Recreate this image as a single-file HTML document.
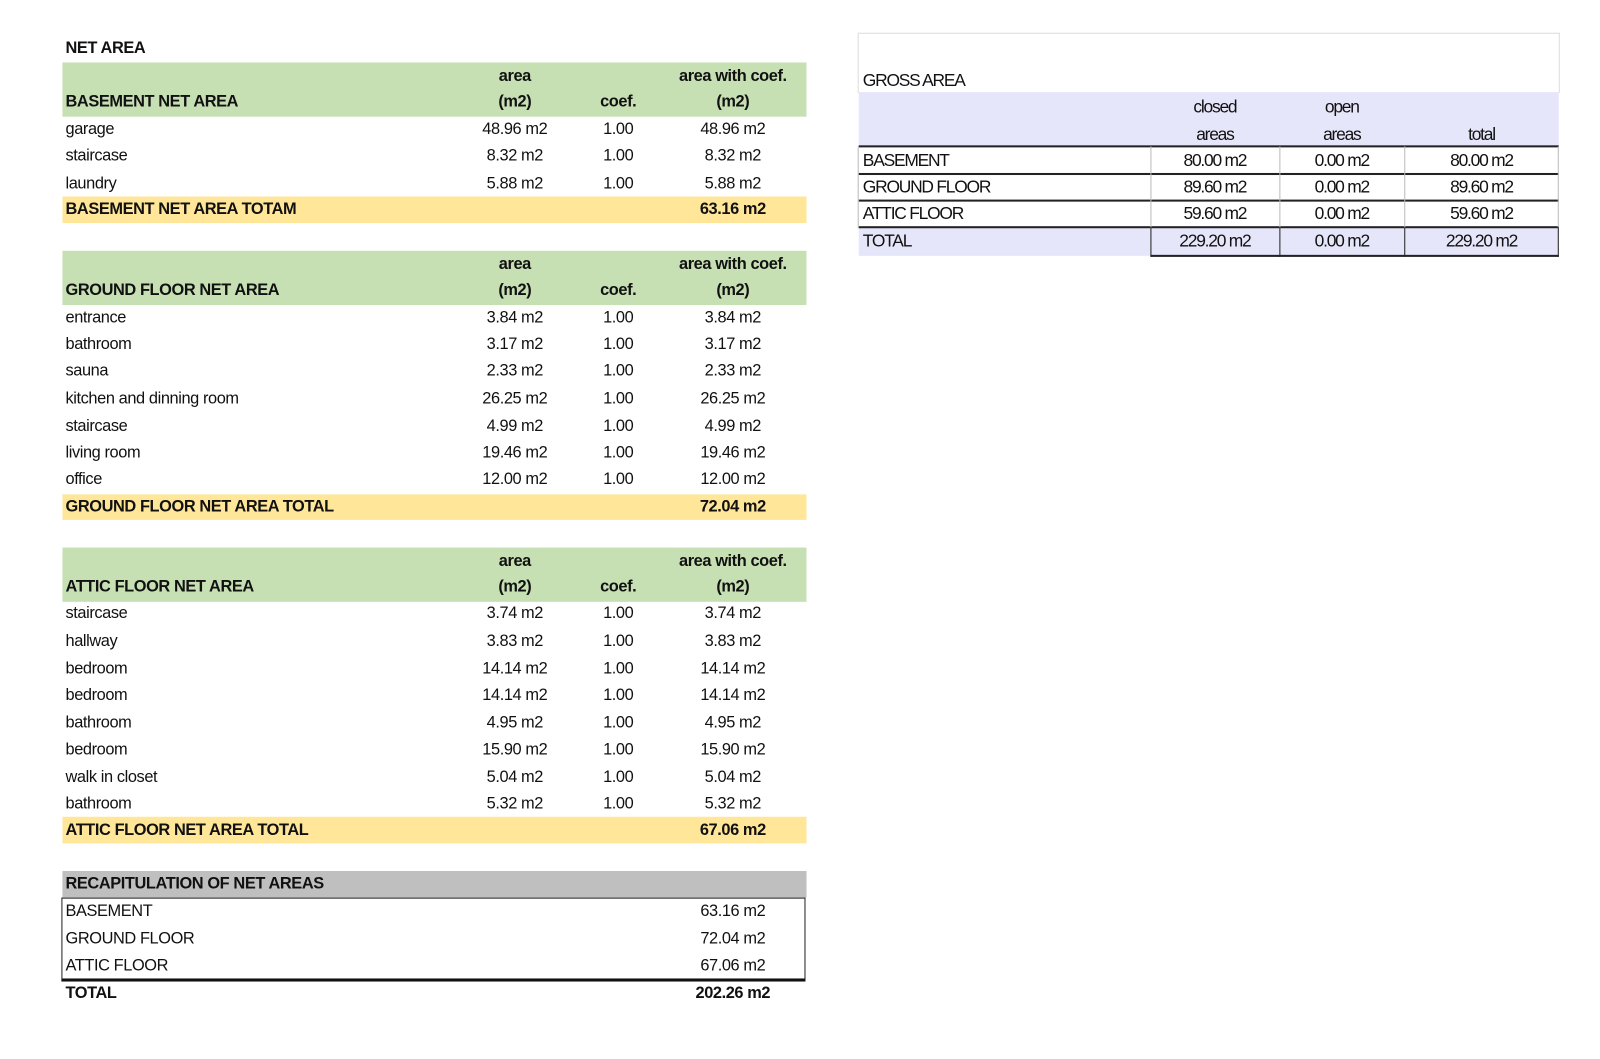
<!DOCTYPE html>
<html><head><meta charset="utf-8"><style>
body{margin:0;width:1600px;height:1035px;background:#fff;position:relative;overflow:hidden;font-family:"Liberation Sans",sans-serif;color:#111}
#w{position:absolute;left:0;top:0;width:1600px;height:1035px;transform:scale(1.0235);transform-origin:0 0}
.b{position:absolute}
.t{position:absolute;font-size:16px;line-height:18px;letter-spacing:-0.4px;white-space:nowrap}
.bold{font-weight:bold}
.l{left:64px}
.a{left:450px;width:106px;text-align:center}
.c{left:574px;width:60px;text-align:center}
.k{left:656px;width:120px;text-align:center}
.g{font-size:17px;letter-spacing:-1.2px}
.gc1{left:1124px;width:126px;text-align:center}
.gc2{left:1250px;width:122px;text-align:center}
.gc3{left:1372px;width:151px;text-align:center}
</style></head><body><div id="w">
<div class="t bold l" style="top:39px">NET AREA</div>
<div class="b" style="left:61px;top:61px;width:727px;height:53px;background:#c6e0b4"></div>
<div class="t bold a" style="top:66px">area</div><div class="t bold k" style="top:66px">area with coef.</div>
<div class="t bold l" style="top:91px">BASEMENT NET AREA</div><div class="t bold a" style="top:91px">(m2)</div><div class="t bold c" style="top:91px">coef.</div><div class="t bold k" style="top:91px">(m2)</div>
<div class="t l" style="top:118px">garage</div><div class="t a" style="top:118px">48.96 m2</div><div class="t c" style="top:118px">1.00</div><div class="t k" style="top:118px">48.96 m2</div>
<div class="t l" style="top:144px">staircase</div><div class="t a" style="top:144px">8.32 m2</div><div class="t c" style="top:144px">1.00</div><div class="t k" style="top:144px">8.32 m2</div>
<div class="t l" style="top:171px">laundry</div><div class="t a" style="top:171px">5.88 m2</div><div class="t c" style="top:171px">1.00</div><div class="t k" style="top:171px">5.88 m2</div>
<div class="b" style="left:61px;top:192px;width:727px;height:26px;background:#ffe699"></div>
<div class="t bold l" style="top:196px">BASEMENT NET AREA TOTAM</div><div class="t bold k" style="top:196px">63.16 m2</div>
<div class="b" style="left:61px;top:245px;width:727px;height:53px;background:#c6e0b4"></div>
<div class="t bold a" style="top:250px">area</div><div class="t bold k" style="top:250px">area with coef.</div>
<div class="t bold l" style="top:275px">GROUND FLOOR NET AREA</div><div class="t bold a" style="top:275px">(m2)</div><div class="t bold c" style="top:275px">coef.</div><div class="t bold k" style="top:275px">(m2)</div>
<div class="t l" style="top:302px">entrance</div><div class="t a" style="top:302px">3.84 m2</div><div class="t c" style="top:302px">1.00</div><div class="t k" style="top:302px">3.84 m2</div>
<div class="t l" style="top:328px">bathroom</div><div class="t a" style="top:328px">3.17 m2</div><div class="t c" style="top:328px">1.00</div><div class="t k" style="top:328px">3.17 m2</div>
<div class="t l" style="top:354px">sauna</div><div class="t a" style="top:354px">2.33 m2</div><div class="t c" style="top:354px">1.00</div><div class="t k" style="top:354px">2.33 m2</div>
<div class="t l" style="top:381px">kitchen and dinning room</div><div class="t a" style="top:381px">26.25 m2</div><div class="t c" style="top:381px">1.00</div><div class="t k" style="top:381px">26.25 m2</div>
<div class="t l" style="top:408px">staircase</div><div class="t a" style="top:408px">4.99 m2</div><div class="t c" style="top:408px">1.00</div><div class="t k" style="top:408px">4.99 m2</div>
<div class="t l" style="top:434px">living room</div><div class="t a" style="top:434px">19.46 m2</div><div class="t c" style="top:434px">1.00</div><div class="t k" style="top:434px">19.46 m2</div>
<div class="t l" style="top:460px">office</div><div class="t a" style="top:460px">12.00 m2</div><div class="t c" style="top:460px">1.00</div><div class="t k" style="top:460px">12.00 m2</div>
<div class="b" style="left:61px;top:483px;width:727px;height:25px;background:#ffe699"></div>
<div class="t bold l" style="top:487px">GROUND FLOOR NET AREA TOTAL</div><div class="t bold k" style="top:487px">72.04 m2</div>
<div class="b" style="left:61px;top:535px;width:727px;height:53px;background:#c6e0b4"></div>
<div class="t bold a" style="top:540px">area</div><div class="t bold k" style="top:540px">area with coef.</div>
<div class="t bold l" style="top:565px">ATTIC FLOOR NET AREA</div><div class="t bold a" style="top:565px">(m2)</div><div class="t bold c" style="top:565px">coef.</div><div class="t bold k" style="top:565px">(m2)</div>
<div class="t l" style="top:591px">staircase</div><div class="t a" style="top:591px">3.74 m2</div><div class="t c" style="top:591px">1.00</div><div class="t k" style="top:591px">3.74 m2</div>
<div class="t l" style="top:618px">hallway</div><div class="t a" style="top:618px">3.83 m2</div><div class="t c" style="top:618px">1.00</div><div class="t k" style="top:618px">3.83 m2</div>
<div class="t l" style="top:645px">bedroom</div><div class="t a" style="top:645px">14.14 m2</div><div class="t c" style="top:645px">1.00</div><div class="t k" style="top:645px">14.14 m2</div>
<div class="t l" style="top:671px">bedroom</div><div class="t a" style="top:671px">14.14 m2</div><div class="t c" style="top:671px">1.00</div><div class="t k" style="top:671px">14.14 m2</div>
<div class="t l" style="top:698px">bathroom</div><div class="t a" style="top:698px">4.95 m2</div><div class="t c" style="top:698px">1.00</div><div class="t k" style="top:698px">4.95 m2</div>
<div class="t l" style="top:724px">bedroom</div><div class="t a" style="top:724px">15.90 m2</div><div class="t c" style="top:724px">1.00</div><div class="t k" style="top:724px">15.90 m2</div>
<div class="t l" style="top:751px">walk in closet</div><div class="t a" style="top:751px">5.04 m2</div><div class="t c" style="top:751px">1.00</div><div class="t k" style="top:751px">5.04 m2</div>
<div class="t l" style="top:777px">bathroom</div><div class="t a" style="top:777px">5.32 m2</div><div class="t c" style="top:777px">1.00</div><div class="t k" style="top:777px">5.32 m2</div>
<div class="b" style="left:61px;top:798px;width:727px;height:26px;background:#ffe699"></div>
<div class="t bold l" style="top:803px">ATTIC FLOOR NET AREA TOTAL</div><div class="t bold k" style="top:803px">67.06 m2</div>
<div class="b" style="left:61px;top:851px;width:727px;height:26px;background:#bfbfbf"></div>
<div class="t bold l" style="top:855px">RECAPITULATION OF NET AREAS</div>
<div class="b" style="left:60px;top:877px;width:725px;height:78px;border:1px solid #222;border-bottom:3px solid #111"></div>
<div class="t l" style="top:882px">BASEMENT</div><div class="t k" style="top:882px">63.16 m2</div>
<div class="t l" style="top:909px">GROUND FLOOR</div><div class="t k" style="top:909px">72.04 m2</div>
<div class="t l" style="top:935px">ATTIC FLOOR</div><div class="t k" style="top:935px">67.06 m2</div>
<div class="t bold l" style="top:962px">TOTAL</div><div class="t bold k" style="top:962px">202.26 m2</div>
<div class="b" style="left:838px;top:32px;width:684px;height:58px;border:1px solid #ddd;border-bottom:none"></div>
<div class="t g" style="left:843px;top:70px">GROSS AREA</div>
<div class="b" style="left:839px;top:90px;width:684px;height:53px;background:#e6e6fa"></div>
<div class="t g gc1" style="top:96px">closed</div><div class="t g gc2" style="top:96px">open</div>
<div class="t g gc1" style="top:123px">areas</div><div class="t g gc2" style="top:123px">areas</div><div class="t g gc3" style="top:123px">total</div>
<div class="b" style="left:839px;top:222px;width:684px;height:28px;background:#e6e6fa"></div>
<div class="b" style="left:839px;top:142px;width:684px;height:2px;background:#222"></div>
<div class="b" style="left:839px;top:169px;width:684px;height:2px;background:#222"></div>
<div class="b" style="left:839px;top:195px;width:684px;height:2px;background:#222"></div>
<div class="b" style="left:839px;top:221px;width:684px;height:2px;background:#222"></div>
<div class="b" style="left:1124px;top:223px;width:399px;height:26px;border-bottom:2px solid #222"></div>
<div class="b" style="left:838px;top:143px;width:1px;height:80px;background:#bbb"></div>
<div class="b" style="left:1124px;top:143px;width:1px;height:80px;background:#bbb"></div>
<div class="b" style="left:1250px;top:143px;width:1px;height:80px;background:#bbb"></div>
<div class="b" style="left:1372px;top:143px;width:1px;height:80px;background:#bbb"></div>
<div class="b" style="left:1522px;top:143px;width:1px;height:80px;background:#bbb"></div>
<div class="b" style="left:1124px;top:222px;width:1px;height:29px;background:#222"></div>
<div class="b" style="left:1250px;top:222px;width:1px;height:29px;background:#222"></div>
<div class="b" style="left:1372px;top:222px;width:1px;height:29px;background:#222"></div>
<div class="b" style="left:1522px;top:222px;width:1px;height:29px;background:#222"></div>
<div class="t g" style="left:843px;top:148px">BASEMENT</div><div class="t g gc1" style="top:148px">80.00 m2</div><div class="t g gc2" style="top:148px">0.00 m2</div><div class="t g gc3" style="top:148px">80.00 m2</div>
<div class="t g" style="left:843px;top:174px">GROUND FLOOR</div><div class="t g gc1" style="top:174px">89.60 m2</div><div class="t g gc2" style="top:174px">0.00 m2</div><div class="t g gc3" style="top:174px">89.60 m2</div>
<div class="t g" style="left:843px;top:200px">ATTIC FLOOR</div><div class="t g gc1" style="top:200px">59.60 m2</div><div class="t g gc2" style="top:200px">0.00 m2</div><div class="t g gc3" style="top:200px">59.60 m2</div>
<div class="t g" style="left:843px;top:227px">TOTAL</div><div class="t g gc1" style="top:227px">229.20 m2</div><div class="t g gc2" style="top:227px">0.00 m2</div><div class="t g gc3" style="top:227px">229.20 m2</div>
</div></body></html>
